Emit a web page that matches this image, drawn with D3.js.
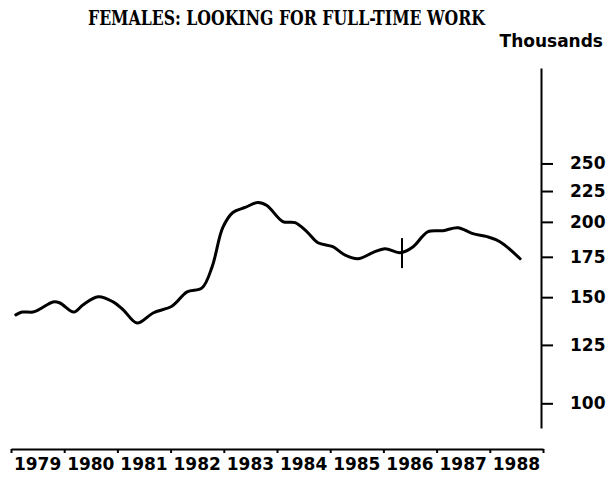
<!DOCTYPE html>
<html lang="en">
  <head>
    <title>Females: looking for full-time work</title>
    <meta charset="utf-8" />
    <script src="https://d3js.org/d3.v7.min.js"></script>
    <style>
      body { margin: 0; background: #ffffff; }
      text { font-family: "DejaVu Sans", sans-serif; font-weight: bold; fill: #000; }
    </style>
  </head>
  <body>
    <svg width="616" height="480" xmlns="http://www.w3.org/2000/svg" id="target"></svg>
    <script>
        // values (thousands, log scale)
        const periods = [
          1979.09, 1979.21, 1979.41, 1979.55, 1979.79, 1979.92,
          1980.18, 1980.35, 1980.64, 1980.92,
          1981.11, 1981.37, 1981.67,
          1982.03, 1982.31, 1982.59, 1982.78, 1982.98,
          1983.17, 1983.40, 1983.64, 1983.81,
          1984.11, 1984.34, 1984.56, 1984.77,
          1985.05, 1985.27, 1985.52, 1985.80,
          1986.03, 1986.31, 1986.56, 1986.73, 1986.84,
          1987.12, 1987.40, 1987.68, 1987.95,
          1988.19, 1988.57
        ];
        const females = [
          140.2, 141.7, 141.7, 143.4, 147.3, 146.7,
          141.7, 145.6, 150.2, 147.3,
          142.9, 135.9, 141.2,
          145.0, 153.1, 155.4, 168.4, 195.6,
          207.3, 211.3, 215.4, 212.9,
          200.2, 199.4, 192.7, 184.7,
          181.9, 176.4, 173.7, 177.8,
          180.5, 177.8, 181.9, 189.0, 192.7,
          193.4, 195.6, 191.2, 189.0,
          185.4, 173.7
        ];
        const years = [1979, 1980, 1981, 1982, 1983, 1984, 1985, 1986, 1987, 1988];
        const yTicks = [100, 125, 150, 175, 200, 225, 250];
        const breakYear = 1986.35;
        const breakValue = 177.5;

        const svg = d3.select("#target");

        const x = d3.scaleLinear().domain([1979, 1989]).range([11, 543]);
        const y = d3.scaleLog().domain([91, 360]).range([428, 68]);

        // title
        svg.append("text")
          .attr("x", 286.5)
          .attr("y", 25)
          .attr("text-anchor", "middle")
          .attr("textLength", 397)
          .attr("lengthAdjust", "spacingAndGlyphs")
          .style("font-family", "'DejaVu Serif', serif")
          .style("font-size", "20px")
          .text("FEMALES: LOOKING FOR FULL-TIME WORK");

        svg.append("text")
          .attr("x", 603)
          .attr("y", 47)
          .attr("text-anchor", "end")
          .style("font-size", "17px")
          .text("Thousands");

        // right axis
        const yAxis = svg.append("g")
          .attr("transform", "translate(541,0)")
          .call(d3.axisRight(y).tickValues(yTicks).tickFormat(d3.format("d"))
            .tickSize(12).tickSizeOuter(0).tickPadding(17));
        yAxis.select(".domain").attr("stroke-width", 2);
        yAxis.selectAll(".tick line").attr("stroke-width", 2);
        yAxis.selectAll(".tick text")
          .style("font-size", "17px")
          .style("font-family", "'DejaVu Sans', sans-serif")
          .style("font-weight", "bold")
          .attr("fill", "#000");

        // bottom axis
        const xAxis = svg.append("g")
          .attr("transform", "translate(0,449)")
          .call(d3.axisBottom(x).tickValues(d3.range(1979, 1990)).tickFormat("")
            .tickSize(4).tickSizeOuter(0));
        xAxis.select(".domain").attr("stroke-width", 2);
        xAxis.selectAll(".tick line").attr("stroke-width", 2);

        svg.selectAll("text.year")
          .data(years)
          .enter()
          .append("text")
          .attr("class", "year")
          .attr("x", d => x(d + 0.5))
          .attr("y", 470)
          .attr("text-anchor", "middle")
          .style("font-size", "17px")
          .text(d => d);

        // series
        const points = periods.map((p, i) => ({t: p, v: females[i]}));
        const line = d3.line()
          .x(d => x(d.t))
          .y(d => y(d.v))
          .curve(d3.curveCatmullRom.alpha(0.5));

        svg.append("path")
          .datum(points)
          .attr("d", line)
          .attr("fill", "none")
          .attr("stroke", "#000")
          .attr("stroke-width", 3)
          .attr("stroke-linejoin", "round")
          .attr("stroke-linecap", "round");

        // series break marker
        svg.append("line")
          .attr("x1", x(breakYear))
          .attr("x2", x(breakYear))
          .attr("y1", y(breakValue) - 15)
          .attr("y2", y(breakValue) + 15)
          .attr("stroke", "#000")
          .attr("stroke-width", 2);
    </script>
  </body>
</html>
